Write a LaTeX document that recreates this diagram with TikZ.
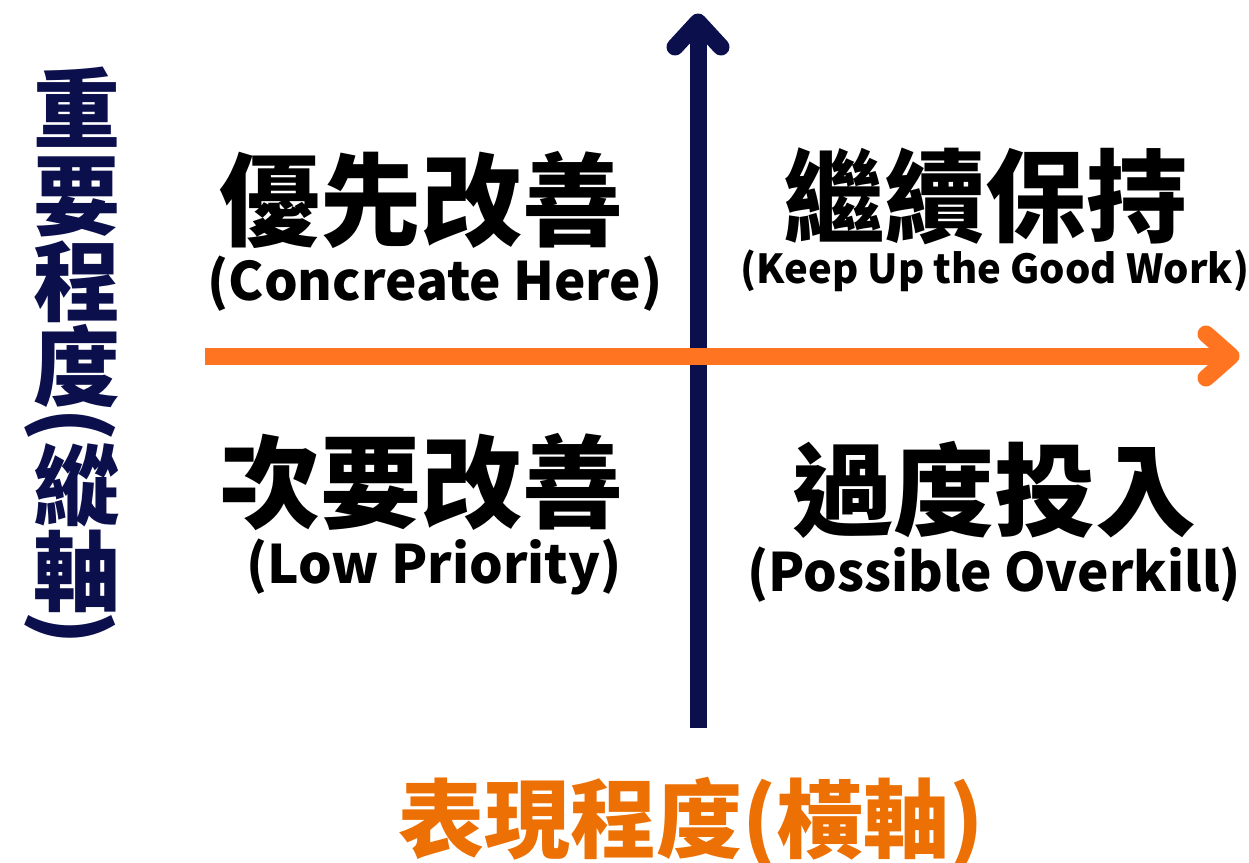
\documentclass[tikz,border=0pt]{standalone}
\usepackage{fontspec}
\setmainfont{Noto Sans CJK TC}
\usepackage{graphicx}
\definecolor{navy}{HTML}{0B0F4C}
\definecolor{axisorange}{HTML}{FF7420}
\definecolor{labelorange}{HTML}{EC7004}
\begin{document}
\begin{tikzpicture}[x=1pt,y=-1pt,
  big/.style={font=\fontsize{101}{101}\selectfont\bfseries, inner sep=0pt},
  sub/.style={font=\fontsize{#1}{#1}\selectfont\bfseries, inner sep=0pt},
  vchar/.style={font=\fontsize{87}{87}\selectfont\bfseries, text=navy, inner sep=0pt},
  axisline/.style={line width=17pt},
  tipline/.style={line width=17pt, line cap=round, line join=round}]
\useasboundingbox (0,0) rectangle (1249,862);
% axes
\coordinate (vb) at (698,728);
\coordinate (vt) at (698,22);
\coordinate (vl) at (675,47);
\coordinate (vr) at (721,47);
\draw[axisline, navy] (vb) -- (vt);
\draw[tipline, navy] (vl) -- (vt) -- (vr);
\coordinate (hl) at (205,356);
\coordinate (hr) at (1231,356);
\coordinate (ht) at (1206,334);
\coordinate (hb) at (1206,378);
\draw[axisline, axisorange] (hl) -- (hr);
\draw[tipline, axisorange] (ht) -- (hr) -- (hb);
% quadrant labels
\node[big] (q1) at (421,200) {優先改善};
\node[sub=53] (q1s) at (435,284) {(Concreate Here)};
\node[big] (q2) at (985,196) {繼續保持};
\node[sub=40] (q2s) at (995,271) {(Keep Up the Good Work)};
\node[big] (q3) at (421,482) {次要改善};
\node[sub=53] (q3s) at (434,567) {(Low Priority)};
\node[big] (q4) at (994,490) {過度投入};
\node[sub=53] (q4s) at (994,575) {(Possible Overkill)};
% vertical axis label
\node[vchar] (v1) at (77,107) {重};
\node[vchar] (v2) at (77,197) {要};
\node[vchar] (v3) at (77,282) {程};
\node[vchar] (v4) at (77,366) {度};
\node[vchar] (v5) at (70,425) {\rotatebox{-90}{(}};
\node[vchar] (v6) at (77,485) {縱};
\node[vchar] (v7) at (77,571) {軸};
\node[vchar] (v8) at (70,628) {\rotatebox{-90}{)}};
% horizontal axis label
\node[font=\fontsize{86}{86}\selectfont\bfseries, text=labelorange, inner sep=0pt] (hlabel) at (691,823) {表現程度(橫軸)};
\end{tikzpicture}
\end{document}
